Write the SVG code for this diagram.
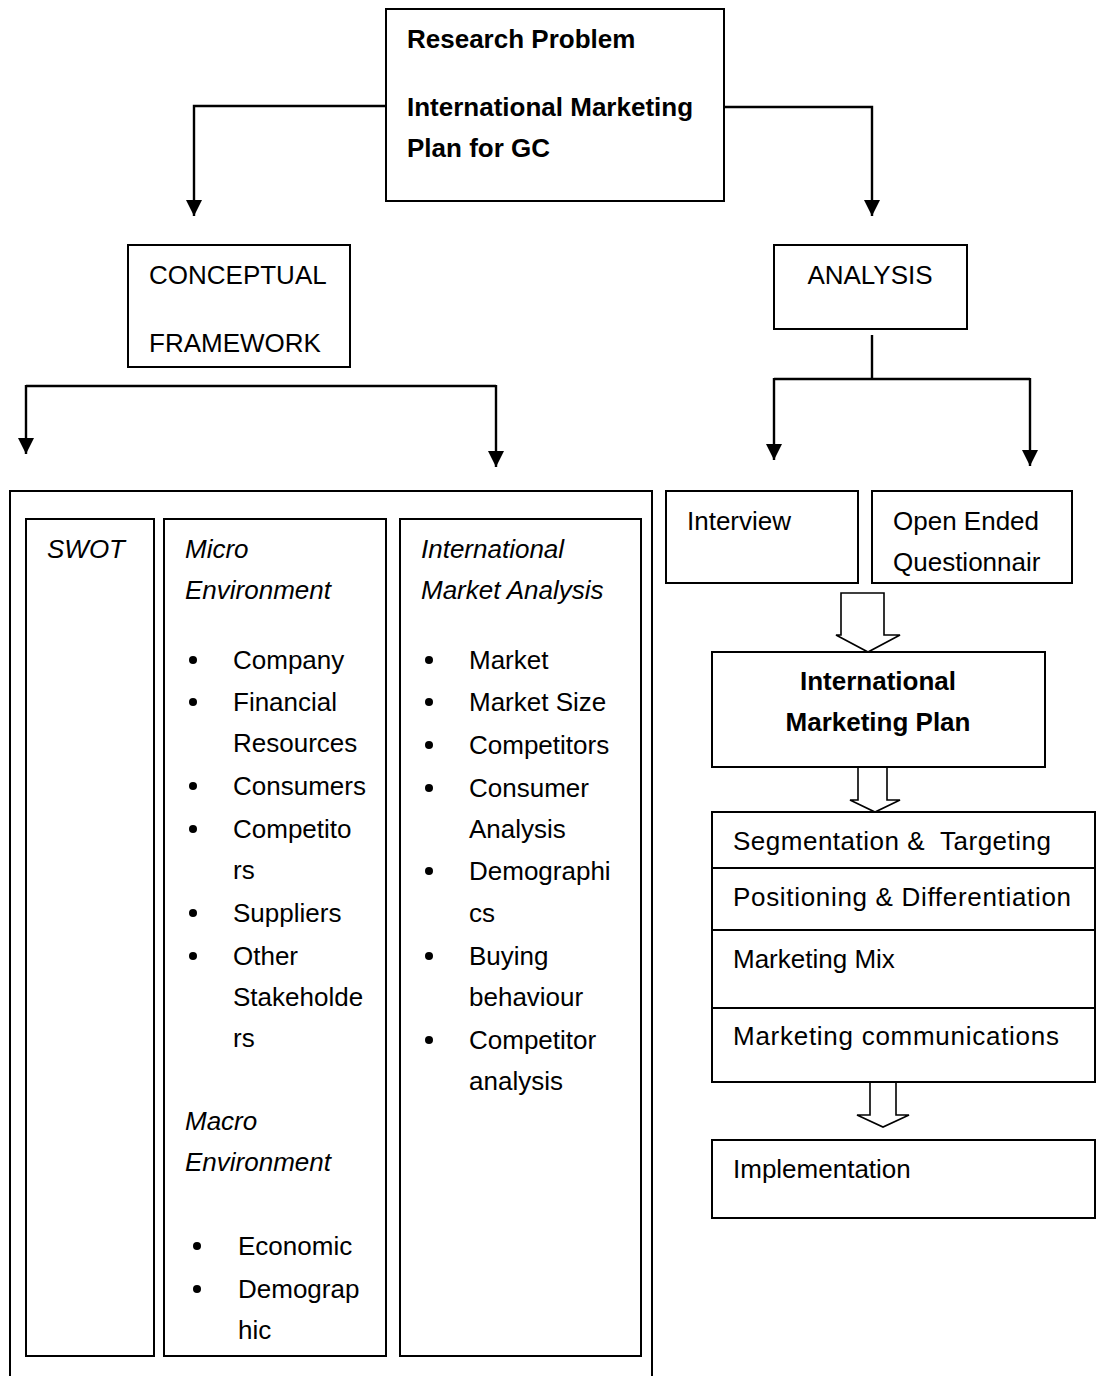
<svg xmlns="http://www.w3.org/2000/svg" width="1096" height="1376" viewBox="0 0 1096 1376">
<style>
text{font-family:"Liberation Sans",Arial,sans-serif;font-size:26px;fill:#000;white-space:pre}
.b{font-weight:bold}
.i{font-style:italic}
.box{fill:#fff;stroke:#000;stroke-width:2}
.ln{fill:none;stroke:#000;stroke-width:2.4}
.dv{fill:none;stroke:#000;stroke-width:2}
.blk{fill:#fff;stroke:#000;stroke-width:1.6}
</style>
<defs>
<marker id="ah" viewBox="0 0 16 16" markerUnits="userSpaceOnUse" markerWidth="16" markerHeight="16" refX="8" refY="16" orient="0">
<path d="M0,0 L16,0 L8,16 z" fill="#000"/>
</marker>
</defs>
<rect width="1096" height="1376" fill="#fff"/>

<g id="connectors">
<path class="ln" d="M386,106 H194 V216" marker-end="url(#ah)"/>
<path class="ln" d="M724,107 H872 V216" marker-end="url(#ah)"/>
<path class="ln" d="M26,386 H496 M26,385 V454" marker-end="url(#ah)"/>
<path class="ln" d="M496,385 V467" marker-end="url(#ah)"/>
<path class="ln" d="M872,335 V379 M774,379 H1030 M774,378 V460" marker-end="url(#ah)"/>
<path class="ln" d="M1030,378 V466" marker-end="url(#ah)"/>
<polygon class="blk" points="841,593 884,593 884,635 900,635 868,652 836,635 841,635"/>
<polygon class="blk" points="858,767 887,767 887,800 900,800 875,812 850,800 858,800"/>
<polygon class="blk" points="870,1082 896,1082 896,1115 909,1115 883,1127 857,1115 870,1115"/>
</g>

<g id="research-problem">
<rect class="box" x="386" y="9" width="338" height="192"/>
<text class="b" x="407" y="48">Research Problem</text>
<text class="b" x="407" y="116">International Marketing</text>
<text class="b" x="407" y="157">Plan for GC</text>
</g>

<g id="conceptual-framework">
<rect class="box" x="128" y="245" width="222" height="122"/>
<text x="149" y="284">CONCEPTUAL</text>
<text x="149" y="352">FRAMEWORK</text>
</g>

<g id="analysis">
<rect class="box" x="774" y="245" width="193" height="84"/>
<text x="870" y="284" text-anchor="middle">ANALYSIS</text>
</g>

<g id="framework-panel">
<rect class="box" x="10" y="491" width="642" height="895"/>
</g>

<g id="swot">
<rect class="box" x="26" y="519" width="128" height="837"/>
<text class="i" x="47" y="558">SWOT</text>
</g>

<g id="environment">
<rect class="box" x="164" y="519" width="222" height="837"/>
<text class="i" x="185" y="558">Micro</text>
<text class="i" x="185" y="599">Environment</text>
<g>
<circle cx="193" cy="660" r="4"/><text x="233" y="669">Company</text>
<circle cx="193" cy="702" r="4"/><text x="233" y="711">Financial</text>
<text x="233" y="752">Resources</text>
<circle cx="193" cy="786" r="4"/><text x="233" y="795">Consumers</text>
<circle cx="193" cy="829" r="4"/><text x="233" y="838">Competito</text>
<text x="233" y="879">rs</text>
<circle cx="193" cy="913" r="4"/><text x="233" y="922">Suppliers</text>
<circle cx="193" cy="956" r="4"/><text x="233" y="965">Other</text>
<text x="233" y="1006">Stakeholde</text>
<text x="233" y="1047">rs</text>
</g>
<text class="i" x="185" y="1130">Macro</text>
<text class="i" x="185" y="1171">Environment</text>
<g>
<circle cx="197" cy="1246" r="4"/><text x="238" y="1255">Economic</text>
<circle cx="197" cy="1289" r="4"/><text x="238" y="1298">Demograp</text>
<text x="238" y="1339">hic</text>
</g>
</g>

<g id="international-market-analysis">
<rect class="box" x="400" y="519" width="241" height="837"/>
<text class="i" x="421" y="558">International</text>
<text class="i" x="421" y="599">Market Analysis</text>
<circle cx="429" cy="660" r="4"/><text x="469" y="669">Market</text>
<circle cx="429" cy="702" r="4"/><text x="469" y="711">Market Size</text>
<circle cx="429" cy="745" r="4"/><text x="469" y="754">Competitors</text>
<circle cx="429" cy="788" r="4"/><text x="469" y="797">Consumer</text>
<text x="469" y="838">Analysis</text>
<circle cx="429" cy="871" r="4"/><text x="469" y="880">Demographi</text>
<text x="469" y="922">cs</text>
<circle cx="429" cy="956" r="4"/><text x="469" y="965">Buying</text>
<text x="469" y="1006">behaviour</text>
<circle cx="429" cy="1040" r="4"/><text x="469" y="1049">Competitor</text>
<text x="469" y="1090">analysis</text>
</g>

<g id="interview">
<rect class="box" x="666" y="491" width="192" height="92"/>
<text x="687" y="530">Interview</text>
</g>

<g id="questionnaire">
<rect class="box" x="872" y="491" width="200" height="92"/>
<text x="893" y="530">Open Ended</text>
<text x="893" y="571">Questionnair</text>
</g>

<g id="international-marketing-plan">
<rect class="box" x="712" y="652" width="333" height="115"/>
<text class="b" x="878" y="690" text-anchor="middle">International</text>
<text class="b" x="878" y="731" text-anchor="middle">Marketing Plan</text>
</g>

<g id="plan-elements">
<rect class="box" x="712" y="812" width="383" height="270"/>
<line class="dv" x1="712" y1="868" x2="1095" y2="868"/>
<line class="dv" x1="712" y1="930" x2="1095" y2="930"/>
<line class="dv" x1="712" y1="1008" x2="1095" y2="1008"/>
<text x="733" y="850" textLength="318">Segmentation &amp;  Targeting</text>
<text x="733" y="906" textLength="338">Positioning &amp; Differentiation</text>
<text x="733" y="968">Marketing Mix</text>
<text x="733" y="1045" textLength="326">Marketing communications</text>
</g>

<g id="implementation">
<rect class="box" x="712" y="1140" width="383" height="78"/>
<text x="733" y="1178">Implementation</text>
</g>
</svg>
